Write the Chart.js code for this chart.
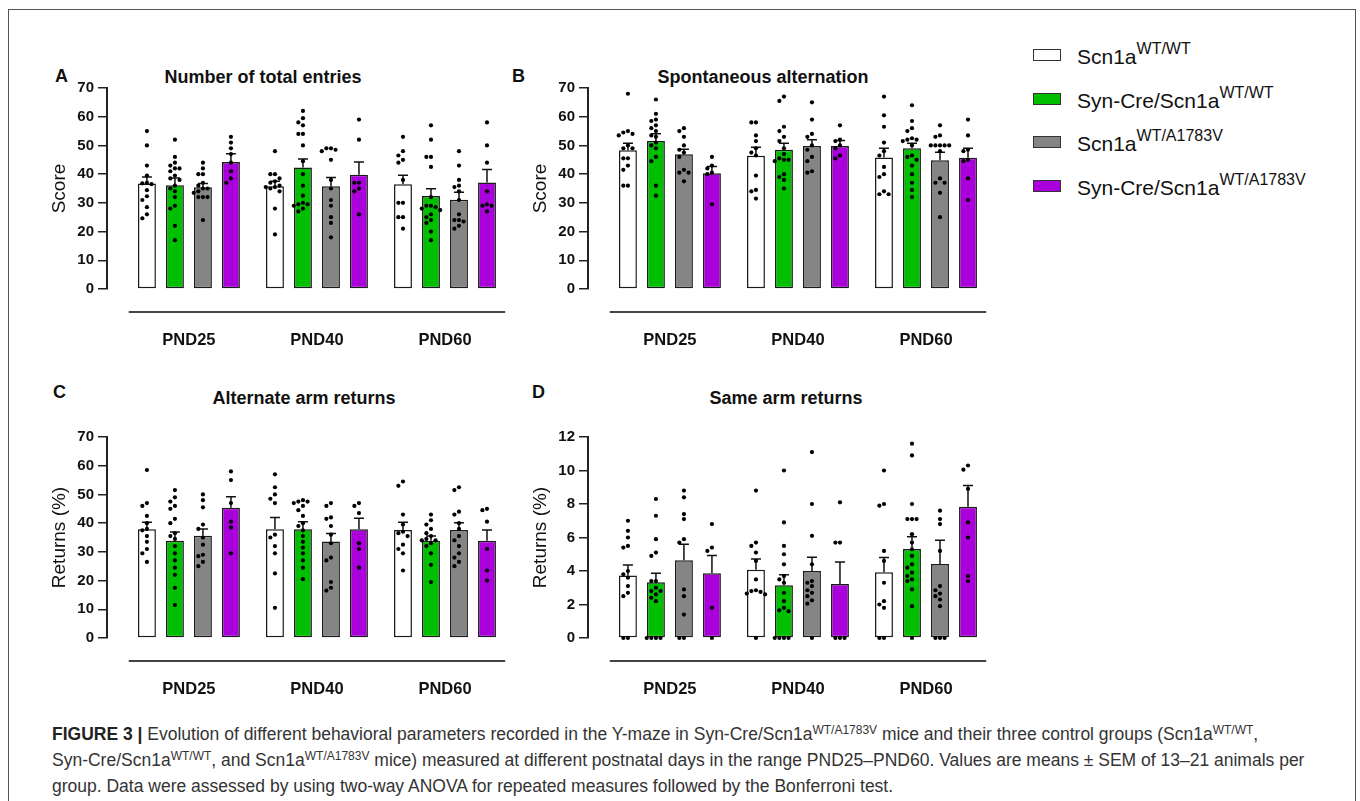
<!DOCTYPE html>
<html lang="en">
<head>
  <meta charset="UTF-8">
  <title>Figure 3 - Y-maze</title>
  <script src="https://cdn.jsdelivr.net/npm/chart.js"></script>
  <style>
    body {
      margin: 0;
      width: 1360px;
      height: 801px;
      overflow: hidden;
      background: #fff;
      font-family: "Liberation Sans", Arial, Helvetica, sans-serif;
      position: relative;
    }

    .frame {
      position: absolute;
      left: 8px;
      top: 9px;
      width: 1346px;
      height: 800px;
      border: 1.5px solid #555;
      border-bottom: none;
    }

    canvas {
      position: absolute;
    }

    .letter, .title {
      position: absolute;
      font-weight: bold;
      font-size: 18px;
      line-height: 1;
      color: #111;
      white-space: nowrap;
    }

    .letter { transform: translateY(-50%); }
    .title { transform: translate(-50%, -50%); }

    .legend-row {
      position: absolute;
      left: 1033px;
      height: 0;
    }

    .legend-row .box {
      position: absolute;
      left: 0;
      top: -6px;
      width: 26px;
      height: 10px;
      border: 1.5px solid #333;
    }

    .legend-row .txt {
      position: absolute;
      left: 44px;
      top: -9px;
      font-size: 21px;
      line-height: 1;
      color: #111;
      white-space: nowrap;
    }

    .legend-row sup {
      font-size: 16px;
      vertical-align: baseline;
      position: relative;
      top: -10px;
    }

    #caption {
      position: absolute;
      left: 52px;
      top: 722px;
      font-size: 17.5px;
      line-height: 24px;
      color: #333;
      white-space: nowrap;
    }

    #caption b { color: #222; }

    #caption sup {
      font-size: 12px;
      vertical-align: baseline;
      position: relative;
      top: -6px;
    }
  </style>
</head>
<body>
  <div class="frame"></div>

  <div class="letter" style="left:55px; top:76px;">A</div>
  <div class="title" style="left:263px; top:77px;">Number of total entries</div>
  <div class="letter" style="left:512px; top:76px;">B</div>
  <div class="title" style="left:763px; top:77px;">Spontaneous alternation</div>
  <div class="letter" style="left:53px; top:392px;">C</div>
  <div class="title" style="left:304px; top:398px;">Alternate arm returns</div>
  <div class="letter" style="left:532px; top:392px;">D</div>
  <div class="title" style="left:786px; top:398px;">Same arm returns</div>

  <canvas id="chartA" width="481" height="289" style="left:40px; top:60px;"></canvas>
  <canvas id="chartB" width="481" height="289" style="left:521px; top:60px;"></canvas>
  <canvas id="chartC" width="481" height="289" style="left:40px; top:409px;"></canvas>
  <canvas id="chartD" width="481" height="289" style="left:521px; top:409px;"></canvas>

  <div class="legend-row" style="top:55px;"><div class="box" style="background:#ffffff"></div><div class="txt">Scn1a<sup>WT/WT</sup></div></div>
  <div class="legend-row" style="top:99px;"><div class="box" style="background:#00bf00"></div><div class="txt">Syn-Cre/Scn1a<sup>WT/WT</sup></div></div>
  <div class="legend-row" style="top:142px;"><div class="box" style="background:#858585"></div><div class="txt">Scn1a<sup>WT/A1783V</sup></div></div>
  <div class="legend-row" style="top:186px;"><div class="box" style="background:#a900dc"></div><div class="txt">Syn-Cre/Scn1a<sup>WT/A1783V</sup></div></div>

  <div id="caption"><b>FIGURE 3 |</b> Evolution of different behavioral parameters recorded in the Y-maze in Syn-Cre/Scn1a<sup>WT/A1783V</sup> mice and their three control groups (Scn1a<sup>WT/WT</sup>,<br>Syn-Cre/Scn1a<sup>WT/WT</sup>, and Scn1a<sup>WT/A1783V</sup> mice) measured at different postnatal days in the range PND25–PND60. Values are means ± SEM of 13–21 animals per<br>group. Data were assessed by using two-way ANOVA for repeated measures followed by the Bonferroni test.</div>

  <script>
    // groups on the x axis and the four genotypes (white, green, gray, purple)
    const groups = ["PND25", "PND40", "PND60"];
    const genotypes = ["Scn1a WT/WT", "Syn-Cre/Scn1a WT/WT", "Scn1a WT/A1783V", "Syn-Cre/Scn1a WT/A1783V"];
    const fills = ["#ffffff", "#00bf00", "#858585", "#a900dc"];

    const ticks70 = [0, 10, 20, 30, 40, 50, 60, 70];
    const ticks12 = [0, 2, 4, 6, 8, 10, 12];

    // A - Number of total entries (rows = genotype, columns = PND25/40/60)
    const entriesMean = [[36.7, 35.8, 36.5], [36.1, 42.3, 32.4], [35.4, 35.8, 31.1], [44.2, 39.8, 37.1]];
    const entriesSem = [[2.3, 1.7, 3.1], [2.6, 3.0, 2.5], [1.3, 3.0, 2.6], [2.9, 4.4, 4.5]];
    const entriesDots = [
      [[55, 50, 43, 39.5, 37, 36.8, 36.5, 34.4, 32.3, 31, 28.5, 26, 24.6], [48, 40, 40, 38.5, 37.5, 37, 36, 35.5, 35.5, 35, 34, 28, 19], [53, 48, 46.5, 45, 44, 38, 30, 30, 25, 25, 21]],
      [[52, 46, 44, 43, 42, 42, 41, 39.5, 38.5, 38, 36, 35, 34, 32, 29, 28, 22, 17], [62, 59.5, 58, 57, 54, 54, 50, 44.5, 40, 36, 32.5, 30, 29.5, 29.5, 29, 28, 27], [57, 52, 46, 46, 42.5, 32, 29, 29, 28.5, 28, 27.5, 26, 25, 24, 23, 20, 17]],
      [[44, 42, 40, 40, 37, 36, 35, 35, 34, 33.5, 32, 32, 32, 24], [49, 49, 48.5, 48, 45, 38, 35, 31, 29, 25, 23, 18], [48, 43, 38, 36, 35.5, 34, 31, 26, 24, 24, 23.5, 22, 21]],
      [[53, 51, 49, 47, 44, 41, 38.5, 37], [59, 52, 37, 37, 35, 34, 26], [58, 50, 44, 34, 29.5, 29, 29, 27]]
    ];

    // B - Spontaneous alternation
    const alternationMean = [[48.3, 46.4, 45.8], [51.5, 48.5, 49.0], [46.9, 49.8, 44.8], [40.3, 49.8, 45.7]];
    const alternationSem = [[2.5, 3.0, 3.2], [2.6, 2.3, 1.8], [1.8, 2.2, 2.8], [2.4, 1.9, 3.3]];
    const alternationDots = [
      [[68, 55, 54.5, 54, 53.5, 50, 49, 49, 45.5, 45.5, 43, 41.5, 36, 36], [58, 58, 53.5, 51.5, 49, 47.5, 46.5, 39.5, 34.5, 34, 31.5], [67, 60.5, 56.5, 51, 48, 46.5, 42.5, 40, 39, 34, 33, 33]],
      [[66, 61, 59, 58.5, 57, 56, 55, 53.5, 53, 51, 50, 49, 46, 44.5, 36, 32.5], [67, 65.5, 56.5, 55, 53, 51.5, 49, 47, 45.5, 45, 45, 44.5, 40, 39, 38, 35], [64, 58.5, 56, 55, 52.5, 52, 52, 51.5, 50, 46.5, 46, 45, 43, 40, 37, 34.5, 32]],
      [[56, 55, 53, 50, 48.5, 47.5, 46, 41.5, 40.5, 40.5, 37.5], [65, 59, 54, 53, 50, 48.5, 46, 44.5, 41, 40.5], [57, 53.5, 53, 50, 50, 50, 50, 50, 48, 38.5, 37, 37, 33.5, 25]],
      [[46, 43, 42, 40.5, 40, 29.5], [57, 52, 51.5, 50, 49, 46.5, 45.5], [59, 53.5, 48.5, 48, 45, 44.5, 38.5, 31]]
    ];

    // C - Alternate arm returns (%)
    const altArmMean = [[37.9, 37.9, 37.6], [33.9, 37.9, 33.9], [35.6, 33.6, 37.6], [45.4, 37.9, 33.9]];
    const altArmSem = [[2.4, 4.1, 2.7], [3.0, 2.6, 1.6], [2.4, 2.8, 2.5], [3.8, 3.8, 3.7]];
    const altArmDots = [
      [[58.5, 47, 46, 42.5, 40, 38, 37.5, 35.5, 33.5, 31, 29.5, 26.5], [57, 52.5, 50, 48.5, 47, 36, 35, 32, 29.5, 22.5, 10.5], [54.5, 53, 43, 39.5, 37, 36.5, 35.5, 32.5, 31, 29.5, 23.5]],
      [[51.5, 49, 47.5, 46, 45, 41.5, 40, 36.5, 35.5, 34.5, 32, 29.5, 27, 24.5, 22, 17.5, 11.5], [48, 47.5, 47.5, 47, 46, 44.5, 42.5, 40, 39, 37.5, 35.5, 33.5, 31.5, 29.5, 27, 24.5, 20.5], [43, 41, 39.5, 38, 36.5, 35.5, 34.5, 34, 34, 33, 32, 29.5, 25.5, 19.5]],
      [[50, 48, 45.5, 39.5, 38, 35, 32.5, 29, 28.5, 26.5, 25], [47, 46, 42, 41.5, 39, 36, 33, 28, 27, 19.5, 17.5, 16.5], [52.5, 51.5, 44, 43, 40, 38, 35.5, 34, 32, 29.5, 28, 26.5, 25]],
      [[58, 55, 47, 40.5, 38.5, 29.5], [47, 46, 43.5, 33, 31, 24.5], [45, 44.5, 40.5, 31, 23.5, 20]]
    ];

    // D - Same arm returns (%)
    const sameArmMean = [[3.73, 4.07, 3.93], [3.33, 3.15, 5.32], [4.64, 4.0, 4.42], [3.87, 3.23, 7.83]];
    const sameArmSem = [[0.63, 0.65, 0.87], [0.54, 0.62, 0.73], [0.96, 0.82, 1.41], [1.05, 1.31, 1.27]];
    const sameArmDots = [
      [[7, 6.4, 6, 5.5, 5.4, 4, 3.8, 3.6, 3.1, 2.7, 2.5, 0, 0], [8.8, 5.7, 5.5, 5.1, 4.6, 3.5, 2.85, 2.8, 2.75, 2.65, 2.6, 0], [10, 8, 7.9, 5.2, 4.6, 3.3, 2.2, 2, 1.8, 0, 0]],
      [[8.3, 7.3, 5.9, 5.1, 4.9, 3.4, 3.4, 3, 2.8, 2.8, 2.6, 2.4, 2.2, 0, 0, 0, 0], [10, 6.9, 5.5, 5, 4.4, 3.7, 3.5, 3.3, 2.7, 2.2, 1.8, 1.65, 1.6, 0, 0, 0, 0], [11.6, 10.9, 8, 7.1, 7.1, 7.1, 6.2, 5.7, 5.3, 4.9, 4.4, 4.2, 3.9, 3.7, 3.5, 3.4, 2.9, 1.9, 0]],
      [[8.8, 8.4, 7.4, 7.1, 5.9, 5.7, 2.9, 2.5, 1.4, 0, 0], [11.1, 8, 6.1, 4.4, 3.4, 3.3, 3.1, 2.85, 2.7, 2.5, 2.25, 2.05, 0], [7.6, 7.1, 6.8, 5.2, 3.1, 2.85, 2.65, 2.5, 2.3, 1.9, 0, 0, 0]],
      [[6.8, 5.4, 5.2, 1.8, 0], [8.1, 5.7, 5.7, 0, 0, 0], [10.3, 10.05, 8.9, 6.9, 6, 3.7, 3.4]]
    ];

    const FONT = '"Liberation Sans", Arial, Helvetica, sans-serif';
    Chart.defaults.font.family = FONT;

    // error bars (upper SEM), individual animals and the detached group axis line
    const overlay = {
      id: "overlay",
      afterDatasetsDraw(chart) {
        const { ctx, chartArea, scales: { x, y } } = chart;
        ctx.save();

        ctx.strokeStyle = "#444";
        ctx.lineWidth = 2;
        const ly = chartArea.bottom + 23;
        ctx.beginPath();
        ctx.moveTo(x.getPixelForValue(-0.47), ly);
        ctx.lineTo(x.getPixelForValue(2.47), ly);
        ctx.stroke();

        chart.data.datasets.forEach((ds, k) => {
          chart.getDatasetMeta(k).data.forEach((bar, i) => {
            const top = y.getPixelForValue(ds.data[i].y + ds.sem[i]);
            const cap = bar.width * 0.28;
            ctx.strokeStyle = "#111";
            ctx.lineWidth = 1.5;
            ctx.beginPath();
            ctx.moveTo(bar.x, bar.y);
            ctx.lineTo(bar.x, top);
            ctx.moveTo(bar.x - cap, top);
            ctx.lineTo(bar.x + cap, top);
            ctx.stroke();

            // simple beeswarm so equal values spread sideways
            const placed = [];
            const gap = 4.6;
            ctx.fillStyle = "#000";
            ds.dots[i].forEach(v => {
              const py = y.getPixelForValue(v);
              let dx = 0;
              for (const m of [0, -1, 1, -2, 2, -3, 3, -4, 4]) {
                const cx = m * gap;
                if (placed.every(p => Math.hypot(p[0] - cx, p[1] - py) >= gap)) { dx = cx; break; }
              }
              placed.push([dx, py]);
              ctx.beginPath();
              ctx.arc(bar.x + dx, py, 2.1, 0, Math.PI * 2);
              ctx.fill();
            });
          });
        });
        ctx.restore();
      }
    };

    function makePanel(id, yTitle, yTicks, means, sems, dots) {
      const datasets = genotypes.map((g, k) => ({
        label: g,
        data: groups.map((_, i) => ({ x: i, y: means[k][i] })),
        sem: sems[k],
        dots: dots[k],
        backgroundColor: fills[k],
        borderColor: "#1a1a1a",
        borderWidth: 1.5,
        borderSkipped: false,
        categoryPercentage: 0.875,
        barPercentage: 0.64
      }));

      new Chart(document.getElementById(id), {
        type: "bar",
        data: { datasets },
        plugins: [overlay],
        options: {
          responsive: false,
          animation: false,
          devicePixelRatio: 1,
          layout: { padding: { top: 28, right: 12, bottom: 0, left: 0 } },
          plugins: { legend: { display: false }, tooltip: { enabled: false } },
          scales: {
            x: {
              type: "linear",
              min: -0.64,
              max: 2.5,
              offset: false,
              grid: { display: false },
              border: { display: false },
              afterBuildTicks: s => { s.ticks = groups.map((_, i) => ({ value: i })); },
              afterFit: s => { s.height = 60; },
              ticks: {
                callback: (v, i) => groups[i],
                autoSkip: false,
                maxRotation: 0,
                padding: 34,
                color: "#111",
                font: { size: 16.5, weight: "bold" }
              }
            },
            y: {
              min: 0,
              max: yTicks[yTicks.length - 1],
              afterBuildTicks: s => { s.ticks = yTicks.map(v => ({ value: v })); },
              afterFit: s => { s.width = 67; },
              grid: { drawOnChartArea: false, color: "#222", lineWidth: 1.5, tickLength: 9 },
              border: { display: true, color: "#222", width: 2 },
              ticks: { padding: 4, color: "#111", font: { size: 15, weight: "bold" } },
              title: {
                display: true,
                text: yTitle,
                color: "#111",
                font: { size: 19 },
                padding: { top: 8.6, bottom: 0 }
              }
            }
          }
        }
      });
    }

    makePanel("chartA", "Score", ticks70, entriesMean, entriesSem, entriesDots);
    makePanel("chartB", "Score", ticks70, alternationMean, alternationSem, alternationDots);
    makePanel("chartC", "Returns (%)", ticks70, altArmMean, altArmSem, altArmDots);
    makePanel("chartD", "Returns (%)", ticks12, sameArmMean, sameArmSem, sameArmDots);
  </script>
</body>
</html>
